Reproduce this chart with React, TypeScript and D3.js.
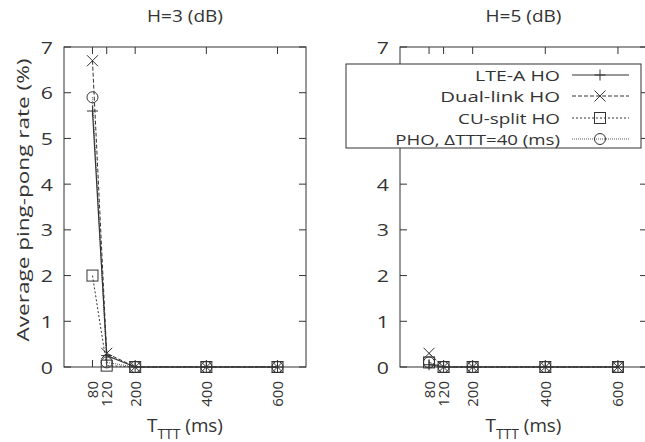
import React, {useLayoutEffect, useRef, useState} from 'react';
import * as d3 from 'd3';

// x positions (ms)
const tttValues = [80, 120, 200, 400, 600];
const yTicks = [0, 1, 2, 3, 4, 5, 6, 7];

const seriesNames = ['LTE-A HO', 'Dual-link HO', 'CU-split HO', 'PHO, \u0394TTT=40 (ms)'];
const legendWidths = [85, 120, 102, 165];

// H=3 (dB)
const lteH3 = [5.6, 0.25, 0, 0, 0];
const dualH3 = [6.7, 0.3, 0, 0, 0];
const cuH3 = [2.0, 0.03, 0, 0, 0];
const phoH3 = [5.9, 0.1, 0, 0, 0];

// H=5 (dB)
const lteH5 = [0.05, 0, 0, 0, 0];
const dualH5 = [0.3, 0, 0, 0, 0];
const cuH5 = [0.1, 0, 0, 0, 0];
const phoH5 = [0.1, 0, 0, 0, 0];

const styles = [
  {dash: 'none', marker: 'plus', width: 1.2},
  {dash: '4,2', marker: 'cross', width: 1},
  {dash: '2,2', marker: 'square', width: 1},
  {dash: '1,1', marker: 'circle', width: 0.8},
];

const ink = '#333';
const font = '"Open Sans", "Noto Sans", sans-serif';

// text stretched along its run to a measured width
const FitText = ({x, y, width, fontSize, anchor = 'start', rotate = false, children}:
  {x: number; y: number; width: number; fontSize: number; anchor?: string; rotate?: boolean; children: React.ReactNode}) => {
  const ref = useRef<SVGTextElement>(null);
  const [sx, setSx] = useState(1);
  useLayoutEffect(() => {
    const len = ref.current ? ref.current.getComputedTextLength() : 0;
    if (len > 0) setSx(width / len);
  }, [width]);
  const t = `translate(${x},${y})${rotate ? ' rotate(-90)' : ''} scale(${sx},1)`;
  return <text ref={ref} transform={t} textAnchor={anchor} fontSize={fontSize} fill={ink} fontFamily={font}>{children}</text>;
};

const Marker = ({type, x, y}: {type: string; x: number; y: number}) => {
  const s = 5.5;
  if (type === 'plus')
    return <path d={`M${x - s},${y}H${x + s}M${x},${y - s}V${y + s}`} stroke={ink} strokeWidth={1} fill="none" />;
  if (type === 'cross')
    return <path d={`M${x - s},${y - s}L${x + s},${y + s}M${x - s},${y + s}L${x + s},${y - s}`} stroke={ink} strokeWidth={1} fill="none" />;
  if (type === 'square')
    return <rect x={x - s} y={y - s} width={2 * s} height={2 * s} stroke={ink} strokeWidth={1} fill="none" />;
  return <circle cx={x} cy={y} r={s} stroke={ink} strokeWidth={1} fill="none" />;
};

const Panel = ({left, right, title, data}: {left: number; right: number; title: string; data: number[][]}) => {
  const top = 47;
  const bottom = 367;
  const x = d3.scaleLinear().domain([0, 680]).range([left, right]);
  const y = d3.scaleLinear().domain([0, 7]).range([bottom, top]);
  const line = d3.line<number>().x((_, i) => x(tttValues[i])).y(d => y(d));
  const cx = (left + right) / 2;
  return (
    <g>
      <FitText x={cx} y={22} width={76} fontSize={15.5} anchor="middle">{title}</FitText>
      <rect x={left} y={top} width={right - left} height={bottom - top} fill="none" stroke={ink} strokeWidth={1} />
      {yTicks.map(t => (
        <g key={t}>
          <line x1={left} x2={left + 7} y1={y(t)} y2={y(t)} stroke={ink} />
          <line x1={right} x2={right - 7} y1={y(t)} y2={y(t)} stroke={ink} />
          <text transform={`translate(${left - 11},${y(t) + 6.5}) scale(1.25,1)`} textAnchor="end" fontSize={17} fill={ink} fontFamily={font}>{t}</text>
        </g>
      ))}
      {tttValues.map(t => (
        <g key={t}>
          <line x1={x(t)} x2={x(t)} y1={bottom} y2={bottom - 7} stroke={ink} />
          <line x1={x(t)} x2={x(t)} y1={top} y2={top + 7} stroke={ink} />
          <text transform={`translate(${x(t) + 5.5},${bottom + 14}) rotate(-90)`} textAnchor="end" fontSize={15} fill={ink} fontFamily={font}>{t}</text>
        </g>
      ))}
      {data.map((vals, k) => (
        <g key={k}>
          <path d={line(vals) || ''} fill="none" stroke={ink} strokeWidth={styles[k].width} strokeDasharray={styles[k].dash} />
          {vals.map((v, i) => <Marker key={i} type={styles[k].marker} x={x(tttValues[i])} y={y(v)} />)}
        </g>
      ))}
      <FitText x={cx - 38} y={432} width={76} fontSize={19}>
        T<tspan fontSize={14} dy={7}>TTT</tspan><tspan dy={-7}> (ms)</tspan>
      </FitText>
    </g>
  );
};

const App = () => {
  const legendRows = [75, 96, 118, 139];
  return (
    <svg width={645} height={442} style={{position: 'absolute', left: 0, top: 0, background: '#fff'}}>
      <FitText x={29} y={200} width={283} fontSize={17} anchor="middle" rotate>Average ping-pong rate (%)</FitText>
      <Panel left={64} right={306} title="H=3 (dB)" data={[lteH3, dualH3, cuH3, phoH3]} />
      <Panel left={400} right={647} title="H=5 (dB)" data={[lteH5, dualH5, cuH5, phoH5]} />
      <rect x={346} y={64} width={295} height={84} fill="#fff" stroke={ink} strokeWidth={1} />
      {seriesNames.map((name, k) => (
        <g key={name}>
          <FitText x={560} y={legendRows[k] + 5.5} width={legendWidths[k]} fontSize={15} anchor="end">{name}</FitText>
          <line x1={572} x2={629} y1={legendRows[k]} y2={legendRows[k]} stroke={ink} strokeWidth={styles[k].width} strokeDasharray={styles[k].dash} />
          <Marker type={styles[k].marker} x={600} y={legendRows[k]} />
        </g>
      ))}
    </svg>
  );
};

export default App;
